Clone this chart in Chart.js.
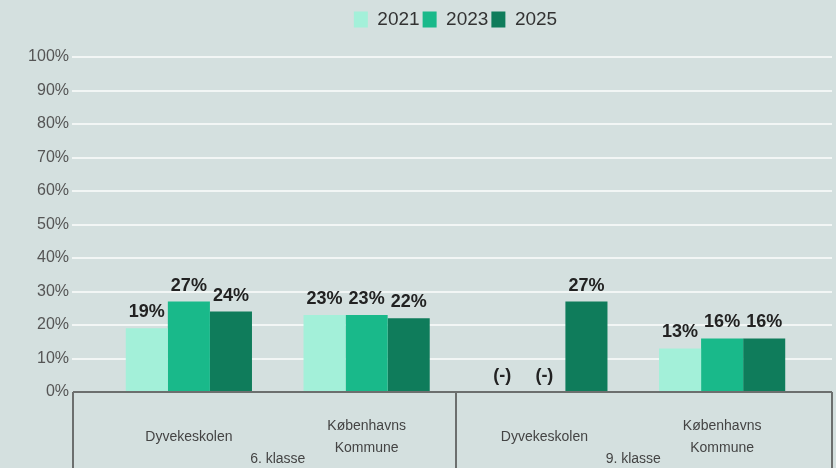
<!DOCTYPE html>
<html>
<head>
<meta charset="utf-8">
<script src="https://cdn.jsdelivr.net/npm/chart.js@4.4.1/dist/chart.umd.min.js"></script>
<style>
  html, body { margin: 0; padding: 0; background: #d4e0df; }
  #wrap { width: 836px; height: 468px; position: relative; }
</style>
</head>
<body>
<div id="wrap"><canvas id="c"></canvas></div>
<script>
const categories = ['Dyvekeskolen', ['Københavns', 'Kommune'], 'Dyvekeskolen', ['Københavns', 'Kommune']];
const groups = ['6. klasse', '9. klasse'];
const groupSizes = [2, 2];
const seriesLabels = ['2021', '2023', '2025'];
const values2021 = [19, 23, null, 13];
const values2023 = [27, 23, null, 16];
const values2025 = [24, 22, 27, 16];
const missingLabel = '(-)';
const yMin = 0, yMax = 100, yStep = 10;

const colors = ['#a3f0d9', '#19b98a', '#0f7c5b'];
const FONT = '"Liberation Sans", Arial, sans-serif';

const bgPlugin = {
  id: 'bg',
  beforeDraw(chart) {
    const ctx = chart.ctx;
    ctx.save();
    ctx.fillStyle = '#d4e0df';
    ctx.fillRect(0, 0, chart.width, chart.height);
    ctx.restore();
  }
};

const legendFit = {
  id: 'legendFit',
  beforeInit(chart) {
    const orig = chart.legend.fit;
    chart.legend.fit = function () {
      orig.bind(chart.legend)();
      this.height = 50;
    };
  }
};

function frameX(chart) {
  return { left: chart.chartArea.left - 27, right: chart.chartArea.right + 21 };
}

const gridPlugin = {
  id: 'grid',
  beforeDatasetsDraw(chart) {
    const ctx = chart.ctx, y = chart.scales.y;
    const fx = frameX(chart);
    ctx.save();
    ctx.strokeStyle = '#f2f6f5';
    ctx.lineWidth = 2;
    y.ticks.forEach(t => {
      if (t.value === 0) return;
      const py = Math.round(y.getPixelForValue(t.value));
      ctx.beginPath();
      ctx.moveTo(fx.left - 1, py);
      ctx.lineTo(fx.right, py);
      ctx.stroke();
    });
    ctx.restore();
  }
};

const framePlugin = {
  id: 'frame',
  afterDatasetsDraw(chart) {
    const ctx = chart.ctx, x = chart.scales.x, y = chart.scales.y;
    const fx = frameX(chart);
    const y0 = Math.round(y.getPixelForValue(0));
    const bottom = chart.height;
    ctx.save();
    ctx.strokeStyle = '#6c6f6e';
    ctx.lineWidth = 2;
    ctx.beginPath();
    ctx.moveTo(fx.left, y0);
    ctx.lineTo(fx.right, y0);
    ctx.moveTo(fx.left, y0);
    ctx.lineTo(fx.left, bottom);
    ctx.moveTo(fx.right, y0);
    ctx.lineTo(fx.right, bottom);
    ctx.stroke();
    const catW = (x.right - x.left) / categories.length;
    let idx = 0;
    ctx.fillStyle = '#444';
    ctx.font = '14px ' + FONT;
    ctx.textAlign = 'center';
    ctx.textBaseline = 'middle';
    groups.forEach((g, gi) => {
      const first = idx, last = idx + groupSizes[gi] - 1;
      const gl = x.getPixelForValue(first) - catW / 2;
      const gr = x.getPixelForValue(last) + catW / 2;
      if (gi > 0) {
        ctx.beginPath();
        ctx.moveTo(Math.round(gl), y0);
        ctx.lineTo(Math.round(gl), bottom);
        ctx.stroke();
      }
      ctx.fillText(g, (gl + gr) / 2, 459);
      idx += groupSizes[gi];
    });
    ctx.fillStyle = '#222';
    ctx.font = 'bold 18px ' + FONT;
    ctx.textAlign = 'center';
    ctx.textBaseline = 'alphabetic';
    chart.data.datasets.forEach((ds, di) => {
      const meta = chart.getDatasetMeta(di);
      meta.data.forEach((el, i) => {
        const v = ds.data[i];
        const px = el.x;
        const py = (v === null || v === undefined) ? y0 : el.y;
        const txt = (v === null || v === undefined) ? missingLabel : v + '%';
        ctx.fillText(txt, px, py - 11);
      });
    });
    ctx.restore();
  }
};

new Chart(document.getElementById('c'), {
  type: 'bar',
  data: {
    labels: categories,
    datasets: [
      { label: seriesLabels[0], data: values2021, backgroundColor: colors[0] },
      { label: seriesLabels[1], data: values2023, backgroundColor: colors[1] },
      { label: seriesLabels[2], data: values2025, backgroundColor: colors[2] }
    ]
  },
  options: {
    responsive: true,
    maintainAspectRatio: false,
    animation: false,
    datasets: { bar: { categoryPercentage: 0.71, barPercentage: 1.0, borderWidth: 0 } },
    layout: { padding: { top: 7, right: 25, bottom: 0, left: 0 } },
    plugins: {
      tooltip: { enabled: false },
      legend: {
        position: 'top',
        fullSize: false,
        labels: {
          boxWidth: 14,
          boxHeight: 16,
          padding: 3,
          color: '#333',
          font: { family: FONT, size: 19 }
        }
      }
    },
    scales: {
      x: {
        grid: { display: false },
        border: { display: false },
        ticks: {
          autoSkip: false,
          maxRotation: 0,
          padding: 26,
          crossAlign: 'center',
          color: '#444',
          font: { family: FONT, size: 14, lineHeight: 1.57 }
        },
        afterFit(s) { s.height = 76; }
      },
      y: {
        min: yMin, max: yMax,
        grid: { display: false },
        border: { display: false },
        ticks: {
          stepSize: yStep,
          padding: 23,
          color: '#555',
          font: { family: FONT, size: 16 },
          callback: v => v + '%'
        },
        afterFit(s) { s.width = 100; }
      }
    }
  },
  plugins: [bgPlugin, legendFit, gridPlugin, framePlugin]
});
</script>
</body>
</html>
